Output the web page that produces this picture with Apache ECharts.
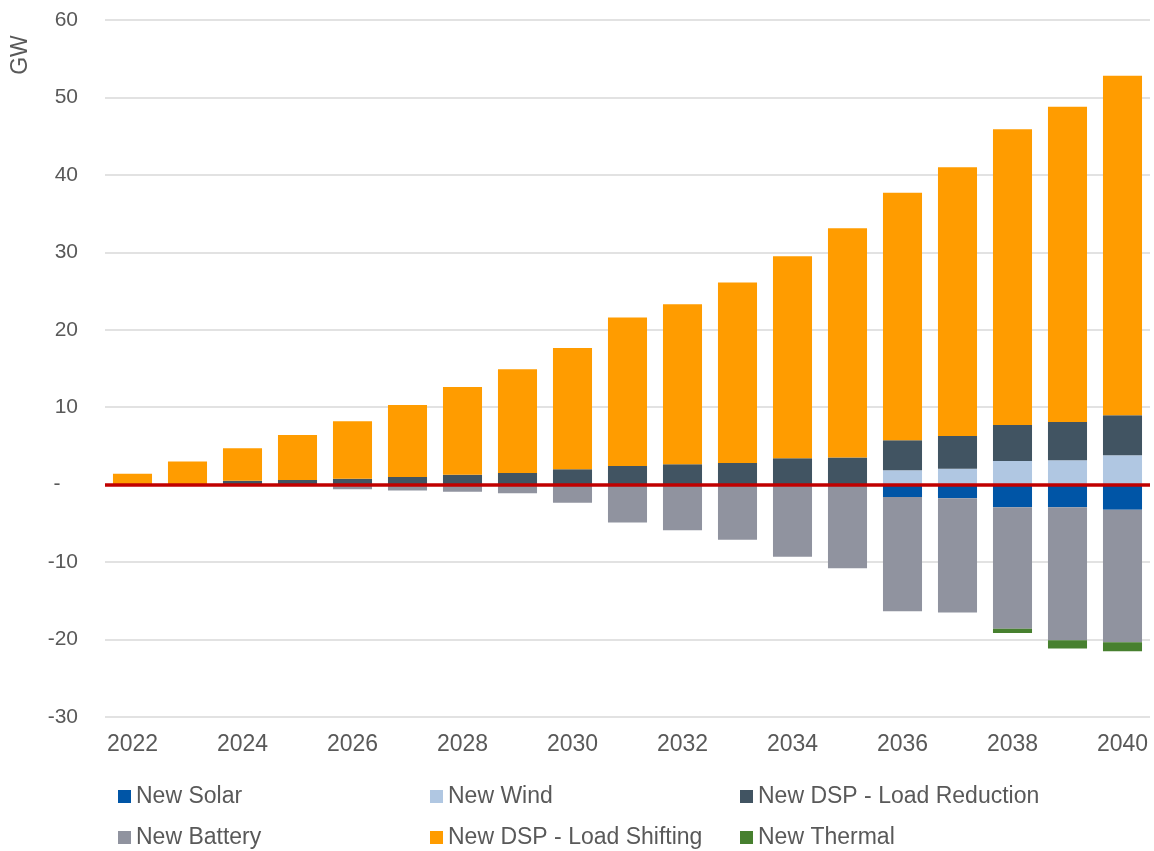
<!DOCTYPE html>
<html>
<head>
<meta charset="utf-8">
<script src="https://cdn.jsdelivr.net/npm/echarts@6/dist/echarts.min.js"></script>
<style>html,body{margin:0;padding:0;background:#fff}#c{width:1154px;height:851px}</style>
</head>
<body>
<div id="c"></div>
<script>
const years = ['2022','2023','2024','2025','2026','2027','2028','2029','2030','2031','2032','2033','2034','2035','2036','2037','2038','2039','2040'];
const newSolar   = [0,0,0,0,0,0,0,0,0,0,0,0,-0.2,0,-1.6,-1.75,-2.9,-2.9,-3.25];
const newWind    = [0,0,0,0,0,0,0,0,0,0,0,0,0,0,1.85,2.05,3.05,3.15,3.8];
const dspReduction = [0,0,0.5,0.6,0.75,1.0,1.27,1.5,2.0,2.4,2.65,2.8,3.4,3.5,3.9,4.25,4.65,4.95,5.15];
const newBattery = [0,0,0,0,-0.6,-0.75,-0.9,-1.1,-2.35,-4.9,-5.9,-7.1,-9.1,-10.8,-14.75,-14.75,-15.7,-17.2,-17.1];
const dspShifting = [1.4,3.0,4.2,5.8,7.45,9.3,11.35,13.4,15.65,19.2,20.65,23.3,26.1,29.6,31.95,34.7,38.2,40.7,43.85];
const newThermal = [0,0,0,0,0,0,0,0,0,0,0,0,0,0,0,0,-0.55,-1.05,-1.15];
const yTicks = {min:-30, max:60, interval:10};

const names = ['New Solar','New Wind','New DSP - Load Reduction','New Battery','New DSP - Load Shifting','New Thermal'];
const colors = ['#0055A6','#B0C7E2','#415462','#90939F','#FF9C00','#47802F'];
const datas = [newSolar,newWind,dspReduction,newBattery,dspShifting,newThermal];

const FONT = 'Liberation Sans, Arial, sans-serif';
const TXT = '#595959';
const FS = 23;
const FSY = 21;

const series = names.map((n,i)=>({
  name:n, type:'bar', stack:'total', data:datas[i],
  barCategoryGap:'29%',
  itemStyle:{color:colors[i]},
  emphasis:{disabled:true}
}));
series[5].markLine = {
  silent:true, symbol:'none', z:5,
  label:{show:false},
  lineStyle:{color:'#C00000', width:3.5, type:'solid'},
  data:[{yAxis:0}]
};

const legendLeft = [118,430,740];
const legendTop = [785,826];
const legends = names.map((n,i)=>({
  data:[n], left:legendLeft[i%3], top:legendTop[Math.floor(i/3)],
  padding:0, itemWidth:13, itemHeight:13, itemGap:0, icon:'rect',
  textStyle:{color:TXT, fontSize:FS, fontFamily:FONT}, selectedMode:false
}));

const chart = echarts.init(document.getElementById('c'), null, {renderer:'canvas'});
chart.setOption({
  animation:false,
  color:colors,
  grid:{left:105, right:4, top:20, bottom:134, containLabel:false},
  legend:legends,
  graphic:[{
    type:'text', x:21, y:55, rotation:Math.PI/2, origin:[0,0],
    style:{text:'GW', fill:TXT, font:FS+'px '+FONT, align:'center', verticalAlign:'middle'}
  }],
  xAxis:{
    type:'category', data:years,
    axisLine:{show:false}, axisTick:{show:false},
    axisLabel:{interval:1, color:TXT, fontSize:FS, fontFamily:FONT, margin:16}
  },
  yAxis:{
    type:'value', min:yTicks.min, max:yTicks.max, interval:yTicks.interval,
    axisLine:{show:false}, axisTick:{show:false},
    splitLine:{lineStyle:{color:'#D9D9D9', width:1.5}},
    axisLabel:{color:TXT, fontSize:FSY, fontFamily:FONT, margin:27,
      formatter:v=> v===0 ? '-   ' : String(v)}
  },
  series:series
});
</script>
</body>
</html>
